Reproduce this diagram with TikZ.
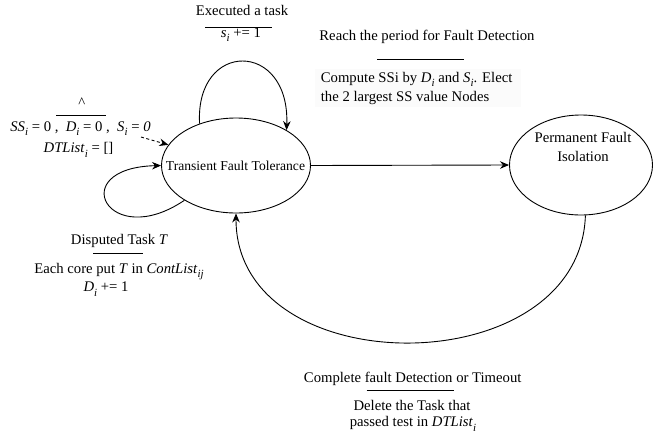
\documentclass[tikz,border=0pt]{standalone}
\usepackage{fontspec}
\setmainfont{Liberation Serif}
\usetikzlibrary{shapes.geometric,arrows.meta}
% italic variable with a lowered italic subscript
\newcommand\vsub[2]{\textit{#1}\raisebox{-0.3em}{\fontsize{11}{11}\selectfont\textit{#2}}}
\tikzset{
  stateshape/.style={ellipse,draw,line width=0.9pt,inner sep=0pt},
  lbl/.style={font=\fontsize{14.7}{19}\selectfont,inner sep=0pt,anchor=base},
  conn/.style={line width=0.9pt,-{Stealth[length=9pt,width=7.5pt]}},
  rule/.style={line width=0.9pt}
}
\begin{document}
\begin{tikzpicture}[x=1pt,y=-1pt]
\useasboundingbox (0,0) rectangle (654,437);

% states
\node[stateshape,minimum width=149pt,minimum height=95pt] (t) at (236,165.5) {};
\node[lbl,font=\fontsize{13.6}{16}\selectfont] (ttxt) at (235.5,170) {Transient Fault Tolerance};
\node[stateshape,minimum width=143pt,minimum height=100pt] (p) at (581,165) {};
\node[lbl,align=center] (ptxt) at (583,161.7) {Permanent Fault\\[0pt]Isolation};

% self loop on top: executed a task
\draw[conn] (t.131) .. controls (195,40) and (290,40) .. (t.35);
\node[lbl] (exec) at (242,15.7) {Executed a task};
\draw[rule] (205,27) -- (272,27);
\node[lbl] (sinc) at (241,37.5) {\vsub{s}{i} += 1};

% initial transition
\coordinate (init) at (141,137);
\draw[conn,dashed,dash pattern=on 3pt off 2.5pt] (init) -- (t.163);
\node[lbl] (caret) at (81.7,107) {\textasciicircum};
\draw[rule] (56,115) -- (106,115);
\node[lbl] (initvals) at (80.5,131) {\vsub{SS}{i} = 0 ,\ \ \vsub{D}{i} = 0 ,\ \ \vsub{S}{i} = \textit{0}};
\node[lbl] (dtl) at (78.5,152.7) {\vsub{DTList}{i} = []};

% self loop on the left: disputed task
\draw[conn] (t.214) .. controls (108,252) and (64,168) .. (t.west);
\node[lbl] (disp) at (119.5,244) {Disputed Task \textit{T}};
\draw[rule] (93,253) -- (143,253);
\node[lbl] (cont) at (119,273.3) {Each core put \textit{T} in \vsub{ContList}{ij}};
\node[lbl] (dinc) at (106,291.7) {\vsub{D}{i} += 1};

% transient -> permanent
\draw[conn] (t.east) -- (p.west);
\node[lbl] (reach) at (427,40.7) {Reach the period for Fault Detection};
\draw[rule] (377,59.3) -- (464,59.3);
\fill[black!1.5] (315,69) rectangle (521,107);
\node[lbl,anchor=base west] (comp1) at (320.7,82.3) {Compute SSi by \vsub{D}{i} and \vsub{S}{i}. Elect};
\node[lbl,anchor=base west] (comp2) at (320.7,101) {the 2 largest SS value Nodes};

% permanent -> transient
\draw[conn] (p.-85) .. controls (580,385) and (236,385) .. (t.south);
\node[lbl] (compl) at (412.7,382.3) {Complete fault Detection or Timeout};
\draw[rule] (366.7,390) -- (454.3,390);
\node[lbl] (del1) at (412,410) {Delete the Task that};
\node[lbl] (del2) at (413,426.7) {passed test in \vsub{DTList}{i}};
\end{tikzpicture}
\end{document}
